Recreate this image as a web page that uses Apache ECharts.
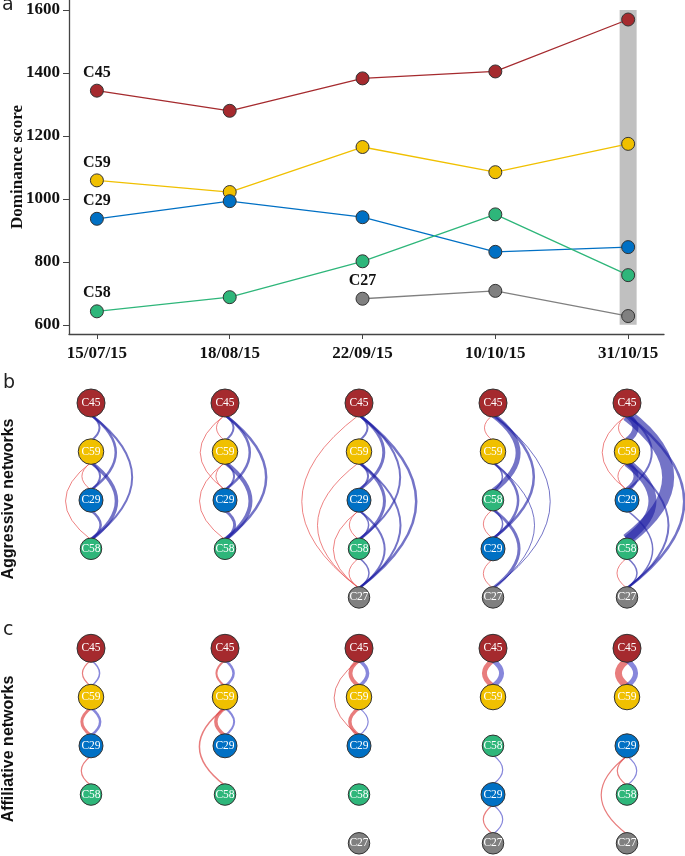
<!DOCTYPE html>
<html>
<head>
<meta charset="utf-8">
<script src="https://cdn.jsdelivr.net/npm/echarts@6/dist/echarts.min.js"></script>
<style>
  html, body { margin: 0; padding: 0; background: #fff; }
  #chart { width: 685px; height: 856px; }
</style>
</head>
<body>
<div id="chart"></div>
<script>
// ---- panel a : dominance scores ----
var dates = ['15/07/15', '18/08/15', '22/09/15', '10/10/15', '31/10/15'];
var c45 = [1344, 1280, 1383, 1405, 1570];
var c59 = [1059, 1022, 1165, 1085, 1175];
var c29 = [937, 993, 942, 832, 847];
var c58 = [643, 688, 802, 951, 758];
var c27 = [null, null, 683, 708, 628];
var yTicks = [600, 800, 1000, 1200, 1400, 1600];

// ---- panels b / c : node order (top -> bottom) at each date ----
var order = [
    ['C45', 'C59', 'C29', 'C58'],
    ['C45', 'C59', 'C29', 'C58'],
    ['C45', 'C59', 'C29', 'C58', 'C27'],
    ['C45', 'C59', 'C58', 'C29', 'C27'],
    ['C45', 'C59', 'C29', 'C58', 'C27']
];

// edges: [date index, upper row, lower row, side (1 = right/blue, -1 = left/red), weight]
var aggressive = [
    [0, 0, 1, 1, 2], [0, 0, 2, 1, 2.5], [0, 0, 3, 1, 2], [0, 1, 2, 1, 2], [0, 1, 3, 1, 3.5], [0, 2, 3, 1, 2.5],
    [0, 1, 2, -1, 1], [0, 1, 3, -1, 1],
    [1, 0, 1, 1, 2], [1, 0, 2, 1, 2.5], [1, 0, 3, 1, 2.5], [1, 1, 2, 1, 2], [1, 1, 3, 1, 4], [1, 2, 3, 1, 3],
    [1, 0, 1, -1, 1], [1, 0, 2, -1, 1], [1, 1, 2, -1, 1], [1, 1, 3, -1, 1],
    [2, 0, 1, 1, 2], [2, 0, 2, 1, 3], [2, 0, 3, 1, 2], [2, 0, 4, 1, 2.5], [2, 1, 2, 1, 2], [2, 1, 3, 1, 3],
    [2, 1, 4, 1, 2], [2, 2, 3, 1, 1.5], [2, 2, 4, 1, 2], [2, 3, 4, 1, 1.5],
    [2, 0, 4, -1, 1], [2, 1, 4, -1, 1], [2, 2, 4, -1, 1], [2, 2, 3, -1, 1], [2, 3, 4, -1, 1],
    [3, 0, 2, 1, 5], [3, 0, 3, 1, 2.5], [3, 0, 4, 1, 1], [3, 1, 4, 1, 1], [3, 1, 3, 1, 2.5], [3, 2, 4, 1, 3],
    [3, 1, 2, 1, 1.5], [3, 2, 3, 1, 1.5],
    [3, 0, 1, -1, 1], [3, 2, 3, -1, 1], [3, 3, 4, -1, 1],
    [4, 0, 3, 1, 12], [4, 1, 3, 1, 8], [4, 0, 1, 1, 6], [4, 1, 2, 1, 5], [4, 0, 4, 1, 2.5], [4, 1, 4, 1, 2],
    [4, 0, 2, 1, 2], [4, 2, 4, 1, 1.5], [4, 3, 4, 1, 1.5],
    [4, 0, 1, -1, 1], [4, 0, 2, -1, 1], [4, 1, 2, -1, 1], [4, 3, 4, -1, 1]
];
var affiliative = [
    [0, 0, 1, -1, 1.2], [0, 0, 1, 1, 1.5], [0, 1, 2, -1, 3], [0, 1, 2, 1, 2.5], [0, 2, 3, -1, 1.2],
    [1, 0, 1, -1, 2], [1, 0, 1, 1, 2.5], [1, 1, 2, -1, 3.5], [1, 1, 2, 1, 2], [1, 1, 3, -1, 1.5],
    [2, 0, 1, -1, 4], [2, 0, 1, 1, 3.5], [2, 1, 2, -1, 3.5], [2, 1, 2, 1, 1.2], [2, 0, 2, -1, 1],
    [3, 0, 1, -1, 5], [3, 0, 1, 1, 5], [3, 2, 3, 1, 1.2], [3, 3, 4, -1, 1.2], [3, 3, 4, 1, 1.2],
    [4, 0, 1, -1, 7], [4, 0, 1, 1, 5], [4, 2, 3, -1, 1.2], [4, 2, 3, 1, 1.2], [4, 2, 4, -1, 1.2]
];

var colors = { C45: '#a52a2e', C59: '#f0c000', C29: '#0070c4', C58: '#2eb67a', C27: '#808080' };
var nodeSize = { C45: 28, C59: 25.5, C29: 24, C58: 21.5, C27: 21.5 };

var serif = 'Liberation Serif';

function lineSeries(name, values) {
    var pts = [];
    values.forEach(function (v, i) {
        if (v == null) return;
        var item = { value: [i, v] };
        if (pts.length == 0) {
            item.label = {
                show: true, position: 'top', distance: 3, formatter: name,
                fontFamily: serif, fontWeight: 'bold', fontSize: 16, color: '#111'
            };
        }
        pts.push(item);
    });
    return {
        type: 'line', name: name, xAxisIndex: 0, yAxisIndex: 0,
        data: pts, symbol: 'circle', symbolSize: 13, z: 3,
        lineStyle: { color: colors[name], width: 1.3 },
        itemStyle: { color: colors[name], borderColor: '#333', borderWidth: 1, opacity: 1 },
        emphasis: { disabled: true }
    };
}

function nodeData() {
    var out = [];
    order.forEach(function (col, c) {
        col.forEach(function (n, r) {
            out.push({
                value: [c, r], name: n, symbolSize: nodeSize[n],
                itemStyle: { color: colors[n] }
            });
        });
    });
    return out;
}

function edgeSeries(idx, data, red, blue) {
    return {
        type: 'custom', xAxisIndex: idx, yAxisIndex: idx, z: 1, clip: false,
        data: data,
        renderItem: function (params, api) {
            var c = api.value(0), r1 = api.value(1), r2 = api.value(2);
            var side = api.value(3), w = api.value(4);
            var p1 = api.coord([c, r1]);
            var p2 = api.coord([c, r2]);
            var y1 = p1[1] + nodeSize[order[c][r1]] / 2 * 0.85;
            var y2 = p2[1] - nodeSize[order[c][r2]] / 2 * 0.85;
            var gap = y2 - y1;
            return {
                type: 'bezierCurve',
                shape: {
                    x1: p1[0], y1: y1, x2: p2[0], y2: y2,
                    cpx1: p1[0] + side * gap * 0.66, cpy1: (y1 + y2) / 2
                },
                style: { stroke: side > 0 ? blue : red, lineWidth: w, fill: 'none' }
            };
        }
    };
}

function nodeSeries(idx) {
    return {
        type: 'scatter', xAxisIndex: idx, yAxisIndex: idx, z: 5,
        data: nodeData(), symbol: 'circle',
        itemStyle: { borderColor: '#333', borderWidth: 1, opacity: 1 },
        label: {
            show: true, position: 'inside', formatter: '{b}',
            color: '#fff', fontFamily: serif, fontSize: 11.5
        },
        emphasis: { disabled: true }
    };
}

var hidden = { show: false };

var chart = echarts.init(document.getElementById('chart'));
var option = {
    backgroundColor: '#fff',
    animation: false,
    grid: [
        { left: 69, right: 21, top: 0, height: 334, outerBoundsMode: 'none', containLabel: false },
        { left: 91, width: 536, top: 403, height: 194.4, outerBoundsMode: 'none' },
        { left: 91, width: 536, top: 648.3, height: 195, outerBoundsMode: 'none' }
    ],
    xAxis: [
        {
            gridIndex: 0, type: 'value', min: -0.21, max: 4.27,
            splitLine: hidden,
            axisLine: { onZero: false, lineStyle: { color: '#444', width: 1.3 } },
            axisTick: { customValues: [0, 1, 2, 3, 4], length: 5, lineStyle: { color: '#444' } },
            axisLabel: {
                customValues: [0, 1, 2, 3, 4], margin: 11,
                formatter: function (v) { return dates[Math.round(v)]; },
                fontFamily: serif, fontWeight: 'bold', fontSize: 17, color: '#111'
            }
        },
        { gridIndex: 1, type: 'value', min: 0, max: 4, show: false },
        { gridIndex: 2, type: 'value', min: 0, max: 4, show: false }
    ],
    yAxis: [
        {
            gridIndex: 0, type: 'value', min: 571, max: 1632,
            name: 'Dominance score', nameLocation: 'middle', nameGap: 43, nameMoveOverlap: false,
            nameTextStyle: { fontFamily: serif, fontWeight: 'bold', fontSize: 17, color: '#111' },
            splitLine: hidden,
            axisLine: { show: true, onZero: false, lineStyle: { color: '#444', width: 1.3 } },
            axisTick: { show: true, customValues: yTicks, length: 6, lineStyle: { color: '#444' } },
            axisLabel: {
                customValues: yTicks, margin: 9,
                formatter: function (v) { return String(v); },
                fontFamily: serif, fontWeight: 'bold', fontSize: 17, color: '#111'
            }
        },
        { gridIndex: 1, type: 'value', min: 0, max: 4, inverse: true, show: false },
        { gridIndex: 2, type: 'value', min: 0, max: 4, inverse: true, show: false }
    ],
    graphic: [
        { type: 'text', left: 2, top: -4, style: { text: 'a', font: '19px "DejaVu Sans"', fill: '#222' } },
        { type: 'text', left: 3, top: 374, style: { text: 'b', font: '19px "DejaVu Sans"', fill: '#222' } },
        { type: 'text', left: 3, top: 621, style: { text: 'c', font: '19px "DejaVu Sans"', fill: '#222' } },
        {
            type: 'text', x: 9, y: 499, rotation: Math.PI / 2,
            style: { text: 'Aggressive networks', font: 'bold 16px "Liberation Sans"', fill: '#111',
                     textAlign: 'center', textVerticalAlign: 'middle' }
        },
        {
            type: 'text', x: 9, y: 749, rotation: Math.PI / 2,
            style: { text: 'Affiliative networks', font: 'bold 16px "Liberation Sans"', fill: '#111',
                     textAlign: 'center', textVerticalAlign: 'middle' }
        }
    ],
    series: [
        lineSeries('C45', c45),
        lineSeries('C59', c59),
        lineSeries('C29', c29),
        lineSeries('C58', c58),
        Object.assign(lineSeries('C27', c27), {
            markArea: {
                silent: true,
                itemStyle: { color: '#c0c0c0', opacity: 1 },
                data: [[{ coord: [3.936, 600] }, { coord: [4.064, 1600] }]]
            }
        }),
        edgeSeries(1, aggressive, 'rgba(232,90,90,0.75)', 'rgba(30,30,165,0.62)'),
        nodeSeries(1),
        edgeSeries(2, affiliative, 'rgba(222,70,70,0.7)', 'rgba(70,70,200,0.65)'),
        nodeSeries(2)
    ]
};
chart.setOption(option, true);
window.addEventListener('resize', function () {
    chart.resize();
});
</script>
</body>
</html>
